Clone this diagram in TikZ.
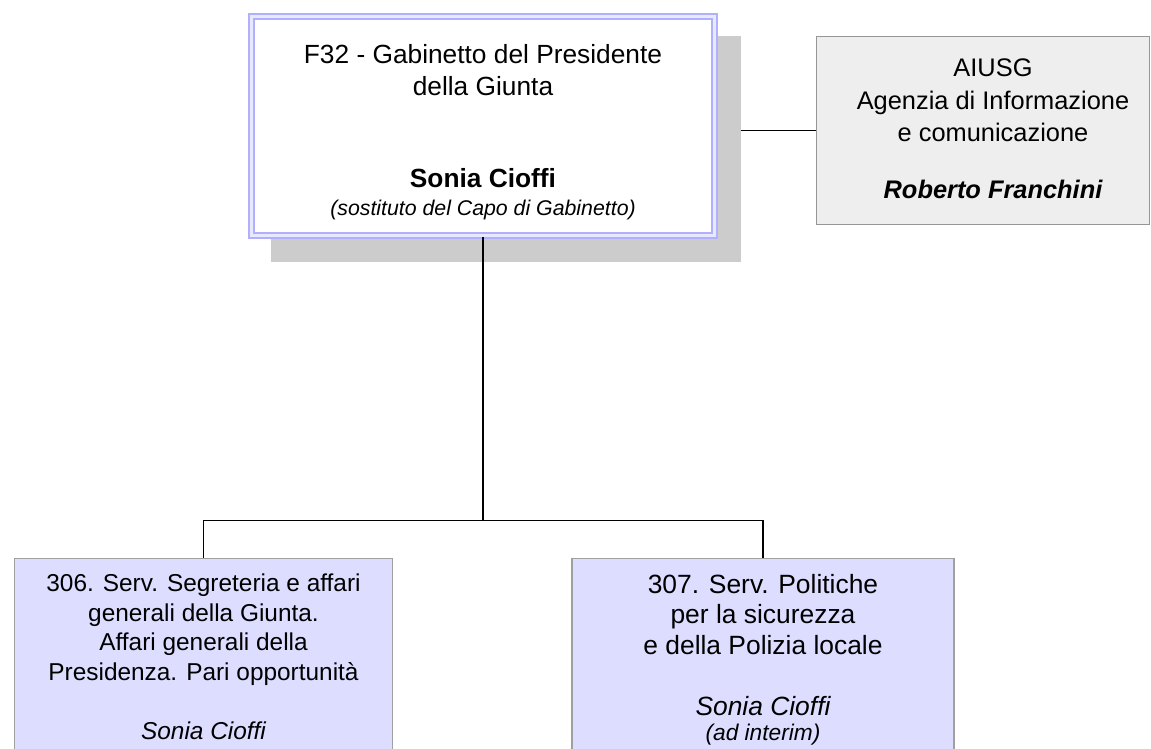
\documentclass[tikz,border=0pt]{standalone}
\usepackage{fontspec}
\setmainfont{Liberation Sans}
\newcommand\fTop{\fontsize{26.3}{31}\selectfont}
\newcommand\fTopI{\fontsize{21.3}{25}\selectfont}
\newcommand\fR{\fontsize{25.4}{31}\selectfont}
\newcommand\fBL{\fontsize{24.4}{29}\selectfont}
\newcommand\fBR{\fontsize{26.4}{31}\selectfont}
\newcommand\fBRi{\fontsize{22.7}{27}\selectfont}
\definecolor{dblue}{RGB}{176,176,255}
\definecolor{dgap}{RGB}{232,232,255}
\definecolor{shadowgray}{RGB}{204,204,204}
\definecolor{rfill}{RGB}{238,238,238}
\definecolor{rborder}{RGB}{150,150,150}
\definecolor{lav}{RGB}{221,221,255}
\definecolor{lavborder}{RGB}{160,160,160}
\tikzset{
  txt/.style={inner sep=0pt, anchor=base, text=black},
  conn/.style={draw=black, line width=1.9pt},
  box/.style={rectangle, inner sep=0pt},
}
\begin{document}
\begin{tikzpicture}[x=1pt,y=-1pt]
\useasboundingbox (0,0) rectangle (1151,748);
\clip (0,0) rectangle (1151,748);
% shadow of top box
\node[box, fill=shadowgray, minimum width=470pt, minimum height=226pt] (shadow) at (506,149) {};
% top box
\node[box, draw=dblue, double=dgap, double distance=2.2pt, line width=2.2pt, fill=white,
      minimum width=463pt, minimum height=219pt] (top) at (483,126) {};
% right box
\node[box, draw=rborder, line width=1.8pt, fill=rfill, minimum width=333pt, minimum height=188pt] (rbox) at (983,130.5) {};
% bottom boxes
\node[box, draw=lavborder, line width=1.6pt, fill=lav, minimum width=378pt, minimum height=241.5pt] (b1) at (203.5,679.25) {};
\node[box, draw=lavborder, line width=1.6pt, fill=lav, minimum width=382pt, minimum height=241.5pt] (b2) at (763,679.25) {};
% connectors
\coordinate (j) at (483,520.5);
\draw[conn] (top.south) -- (j);
\draw[conn] (b1.north) |- (j) -| (b2.north);
\draw[conn] (rbox.west -| shadow.east) -- (rbox.west);
% top box texts
\node[txt] (t1) at (483,63.8) {\fTop F32 - Gabinetto del Presidente};
\node[txt] (t2) at (483,95) {\fTop della Giunta};
\node[txt] (t3) at (483,187) {\fTop\bfseries Sonia Cioffi};
\node[txt] (t4) at (483,215) {\fTopI\itshape (sostituto del Capo di Gabinetto)};
% right box texts
\node[txt] (r1) at (993,76.7) {\fR AIUSG};
\node[txt] (r2) at (993,109.5) {\fR Agenzia di Informazione};
\node[txt] (r3) at (993,141.5) {\fR e comunicazione};
\node[txt] (r4) at (993,198.3) {\fR\bfseries\itshape Roberto Franchini};
% bottom left texts
\node[txt] (l1) at (203.5,591.7) {\fBL 306. Serv. Segreteria e affari};
\node[txt] (l2) at (203.5,621.7) {\fBL generali della Giunta.};
\node[txt] (l3) at (203.5,650.5) {\fBL Affari generali della};
\node[txt] (l4) at (203.5,680) {\fBL Presidenza. Pari opportunità};
\node[txt] (l5) at (203.5,739) {\fBL\itshape Sonia Cioffi};
% bottom right texts
\node[txt] (m1) at (763,593) {\fBR 307. Serv. Politiche};
\node[txt] (m2) at (763,623.5) {\fBR per la sicurezza};
\node[txt] (m3) at (763,654) {\fBR e della Polizia locale};
\node[txt] (m4) at (763,715) {\fBR\itshape Sonia Cioffi};
\node[txt] (m5) at (763,740.5) {\fBRi\itshape (ad interim)};
\end{tikzpicture}
\end{document}
